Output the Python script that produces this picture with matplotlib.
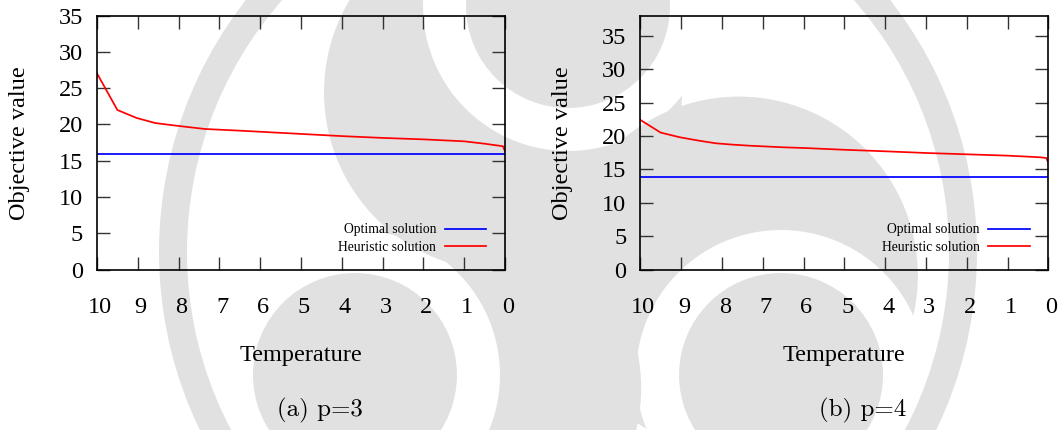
import numpy as np
import matplotlib
matplotlib.use("Agg")
import matplotlib.pyplot as plt
from matplotlib.patches import Circle, Wedge
from matplotlib.path import Path
from matplotlib.transforms import ScaledTranslation

# Cooling schedule (temperature) and objective values, p = 3
temps_a = [10, 9.5, 9.03, 8.57, 8.15, 7.74, 7.35, 6.5, 6.0, 5.0, 4.0, 3.0,
           2.0, 1.0, 0.5, 0.05, 0.0]
heuristic_a = [27.05, 22.0, 20.9, 20.2, 19.9, 19.63, 19.38, 19.15, 19.0, 18.7,
               18.4, 18.15, 17.95, 17.68, 17.35, 17.0, 16.3]
optimal_a = 15.9

# Cooling schedule (temperature) and objective values, p = 4
temps_b = [10, 9.5, 9.03, 8.57, 8.15, 7.74, 7.35, 6.5, 6.0, 5.0, 4.0, 3.0,
           2.0, 1.0, 0.5, 0.2, 0.05, 0.0]
heuristic_b = [22.4, 20.5, 19.8, 19.3, 18.9, 18.7, 18.55, 18.3, 18.2, 17.93,
               17.7, 17.45, 17.25, 17.05, 16.9, 16.8, 16.7, 16.0]
optimal_b = 13.9

x_ticks = list(range(0, 11))
y_ticks = list(range(0, 36, 5))
captions = ["(a) p=3", "(b) p=4"]
y_tops = [35, 38]

W, H = 1061, 430
fig = plt.figure(figsize=(W / 100, H / 100), dpi=100)

# ---- page watermark: a pale emblem (ring + three dot/crescent motifs) ----
bg = fig.add_axes([0, 0, 1, 1], zorder=-10)
bg.set_xlim(0, W)
bg.set_ylim(H, 0)
bg.axis("off")
wm = "#e1e1e1"
centre = np.array([568.0, 252.0])


def outside_circle(cx, cy, r):
    """Clip path covering the page except a disc."""
    t = np.linspace(0, 2 * np.pi, 240)
    disc = np.column_stack([cx + r * np.cos(t), cy + r * np.sin(t)])[::-1]
    box = [(-50, -50), (W + 50, -50), (W + 50, H + 50), (-50, H + 50),
           (-50, -50)]
    verts = box + [tuple(p) for p in disc]
    codes = ([Path.MOVETO] + [Path.LINETO] * 3 + [Path.CLOSEPOLY]
             + [Path.MOVETO] + [Path.LINETO] * (len(disc) - 2)
             + [Path.CLOSEPOLY])
    return Path(verts, codes)


bg.add_patch(Wedge(tuple(centre), 409, 0, 360, width=28, color=wm, lw=0))

for ang in (30.0, 150.0, 270.0):
    a = np.radians(ang)
    dot = centre + 246 * np.array([np.cos(a), np.sin(a)])
    b = np.radians(ang + 217.0)
    crescent_c = dot + 108 * np.array([np.cos(b), np.sin(b)])
    cres = Circle(tuple(crescent_c), 179, color=wm, lw=0)
    bg.add_patch(cres)
    cres.set_clip_path(outside_circle(dot[0], dot[1], 145), bg.transData)
    bg.add_patch(Circle(tuple(dot), 102, color=wm, lw=0))

serif = "Liberation Serif"

panels = [
    (97, temps_a, heuristic_a, optimal_a, 319.5),
    (640.3, temps_b, heuristic_b, optimal_b, 862.8),
]

for i, (left_px, temps, heur, opt, cap_x) in enumerate(panels):
    ax = fig.add_axes([left_px / W, 1 - 269.5 / H, 408 / W, 253.75 / H])
    ax.patch.set_alpha(0)
    ax.plot([max(temps), min(temps)], [opt, opt], color="#0000ff", lw=1.25,
            label="Optimal solution")
    ax.plot(temps, heur, color="#ff0000", lw=1.25, label="Heuristic solution")

    ax.set_xlim(10, 0)
    ax.set_ylim(0, y_tops[i])
    ax.set_xticks(x_ticks)
    ax.set_yticks(y_ticks)

    for s in ax.spines.values():
        s.set_linewidth(1.2)
        s.set_color("black")
    ax.tick_params(direction="in", length=9.5, width=1.0, color="#333333",
                   top=True, right=True, labelsize=17.5)
    ax.tick_params(axis="x", pad=20)
    ax.tick_params(axis="y", pad=10)
    for lab in ax.get_xticklabels() + ax.get_yticklabels():
        lab.set_fontfamily(serif)
    shift = ScaledTranslation(3 / 100, 0, fig.dpi_scale_trans)
    for lab in ax.get_xticklabels():
        lab.set_transform(lab.get_transform() + shift)

    ax.set_xlabel("Temperature", fontsize=17.5, fontfamily=serif)
    ax.xaxis.label.set_va("center")
    ax.xaxis.set_label_coords(0.5, -0.337)
    ax.set_ylabel("Objective value", fontsize=17.5, fontfamily=serif)
    ax.yaxis.label.set_va("center")
    ax.yaxis.set_label_coords(-0.19, 0.5)

    ax.legend(loc="center right", bbox_to_anchor=(0.954, 0.121),
              frameon=False, markerfirst=False, borderpad=0,
              borderaxespad=0, handlelength=3.05, handletextpad=0.63,
              labelspacing=0.35, prop={"family": serif, "size": 9.8})

    fig.text(cap_x / W, 1 - 410 / H, captions[i], fontfamily="cmr10",
             fontsize=18, ha="center", va="center")

fig.savefig("out.png", dpi=100)
